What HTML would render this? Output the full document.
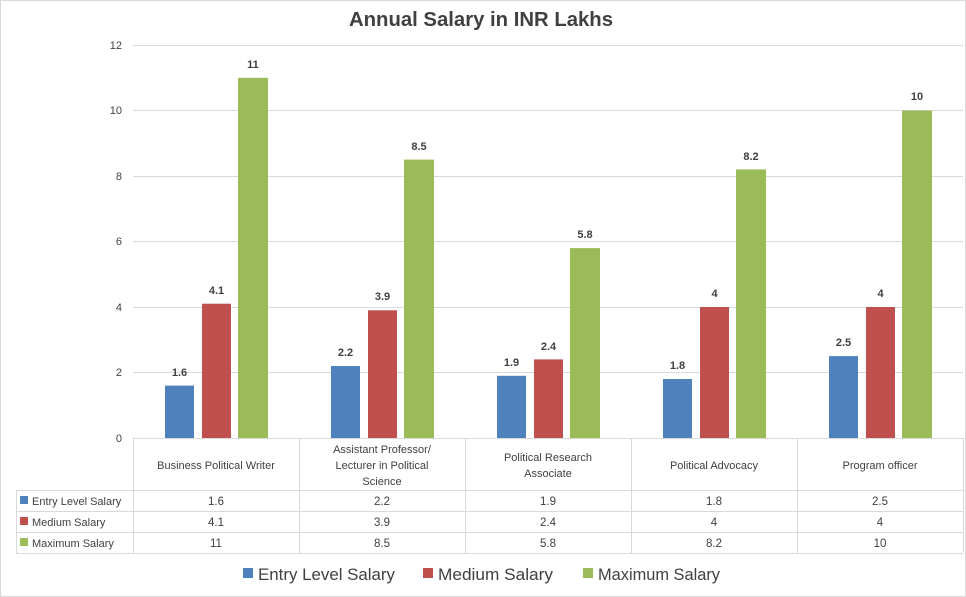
<!DOCTYPE html>
<html><head><style>body{margin:0;background:#fff}svg{display:block}text{font-family:"Liberation Sans",sans-serif}</style></head><body>
<svg width="966" height="597" xmlns="http://www.w3.org/2000/svg">
<rect x="0.5" y="0.5" width="965" height="596" fill="#fff" stroke="#d9d9d9"/>
<text x="349" y="26" font-size="20" font-weight="bold" fill="#404040" textLength="264" lengthAdjust="spacingAndGlyphs">Annual Salary in INR Lakhs</text>
<g stroke="#d9d9d9" stroke-width="1">
<line x1="133" y1="45.5" x2="963" y2="45.5"/><line x1="133" y1="110.5" x2="963" y2="110.5"/><line x1="133" y1="176.5" x2="963" y2="176.5"/><line x1="133" y1="241.5" x2="963" y2="241.5"/><line x1="133" y1="307.5" x2="963" y2="307.5"/><line x1="133" y1="372.5" x2="963" y2="372.5"/>
<line x1="133" y1="438.5" x2="963" y2="438.5"/>
<line x1="133.5" y1="438" x2="133.5" y2="553"/><line x1="299.5" y1="438" x2="299.5" y2="553"/><line x1="465.5" y1="438" x2="465.5" y2="553"/><line x1="631.5" y1="438" x2="631.5" y2="553"/><line x1="797.5" y1="438" x2="797.5" y2="553"/><line x1="963.5" y1="438" x2="963.5" y2="553"/>
<line x1="16" y1="490.5" x2="963" y2="490.5"/><line x1="16" y1="511.5" x2="963" y2="511.5"/><line x1="16" y1="532.5" x2="963" y2="532.5"/><line x1="16" y1="553.5" x2="963" y2="553.5"/>
<line x1="16.5" y1="490" x2="16.5" y2="553"/>
</g>
<g font-size="11" fill="#404040" text-anchor="end">
<text x="122" y="49">12</text><text x="122" y="114">10</text><text x="122" y="180">8</text><text x="122" y="245">6</text><text x="122" y="311">4</text><text x="122" y="376">2</text><text x="122" y="442">0</text>
</g>
<g font-size="11" fill="#404040" text-anchor="middle">
<text x="216" y="469">Business Political Writer</text>
<text x="382" y="453">Assistant Professor/</text><text x="382" y="469">Lecturer in Political</text><text x="382" y="485">Science</text>
<text x="548" y="461">Political Research</text><text x="548" y="477">Associate</text>
<text x="714" y="469">Political Advocacy</text>
<text x="880" y="469">Program officer</text>
</g>
<g font-size="11" fill="#404040">
<rect x="20" y="496" width="8" height="8" fill="#4F81BD"/><text x="32" y="505">Entry Level Salary</text>
<rect x="20" y="517" width="8" height="8" fill="#C0504D"/><text x="32" y="526">Medium Salary</text>
<rect x="20" y="538" width="8" height="8" fill="#9BBB59"/><text x="32" y="547">Maximum Salary</text>
</g>
<g font-size="11.5" fill="#404040" text-anchor="middle">
<text x="216" y="505">1.6</text><text x="382" y="505">2.2</text><text x="548" y="505">1.9</text><text x="714" y="505">1.8</text><text x="880" y="505">2.5</text>
<text x="216" y="526">4.1</text><text x="382" y="526">3.9</text><text x="548" y="526">2.4</text><text x="714" y="526">4</text><text x="880" y="526">4</text>
<text x="216" y="547">11</text><text x="382" y="547">8.5</text><text x="548" y="547">5.8</text><text x="714" y="547">8.2</text><text x="880" y="547">10</text>
</g>
<g font-size="17" fill="#404040">
<rect x="243" y="568" width="10" height="10" fill="#4F81BD"/><text x="258" y="580" textLength="137" lengthAdjust="spacingAndGlyphs">Entry Level Salary</text>
<rect x="423" y="568" width="10" height="10" fill="#C0504D"/><text x="438" y="580" textLength="115" lengthAdjust="spacingAndGlyphs">Medium Salary</text>
<rect x="583" y="568" width="10" height="10" fill="#9BBB59"/><text x="598" y="580" textLength="122" lengthAdjust="spacingAndGlyphs">Maximum Salary</text>
</g>
<g font-size="11" font-weight="bold" fill="#404040" text-anchor="middle">
<rect x="165" y="385.6" width="29" height="52.4" fill="#4F81BD"/><text x="179.5" y="376">1.6</text>
<rect x="202" y="303.7" width="29" height="134.3" fill="#C0504D"/><text x="216.5" y="294">4.1</text>
<rect x="238" y="77.8" width="30" height="360.2" fill="#9BBB59"/><text x="253" y="68">11</text>
<rect x="331" y="366" width="29" height="72" fill="#4F81BD"/><text x="345.5" y="356">2.2</text>
<rect x="368" y="310.3" width="29" height="127.7" fill="#C0504D"/><text x="382.5" y="300">3.9</text>
<rect x="404" y="159.6" width="30" height="278.4" fill="#9BBB59"/><text x="419" y="150">8.5</text>
<rect x="497" y="375.8" width="29" height="62.2" fill="#4F81BD"/><text x="511.5" y="366">1.9</text>
<rect x="534" y="359.4" width="29" height="78.6" fill="#C0504D"/><text x="548.5" y="350">2.4</text>
<rect x="570" y="248.1" width="30" height="189.9" fill="#9BBB59"/><text x="585" y="238">5.8</text>
<rect x="663" y="379" width="29" height="59" fill="#4F81BD"/><text x="677.5" y="369">1.8</text>
<rect x="700" y="307" width="29" height="131" fill="#C0504D"/><text x="714.5" y="297">4</text>
<rect x="736" y="169.4" width="30" height="268.6" fill="#9BBB59"/><text x="751" y="160">8.2</text>
<rect x="829" y="356.1" width="29" height="81.9" fill="#4F81BD"/><text x="843.5" y="346">2.5</text>
<rect x="866" y="307" width="29" height="131" fill="#C0504D"/><text x="880.5" y="297">4</text>
<rect x="902" y="110.5" width="30" height="327.5" fill="#9BBB59"/><text x="917" y="100">10</text>
</g>
</svg>
</body></html>
